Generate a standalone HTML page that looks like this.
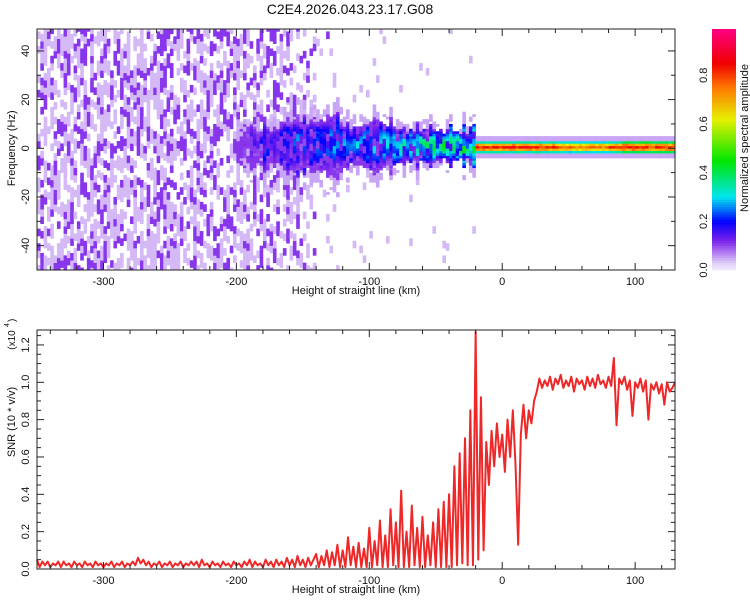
<!DOCTYPE html>
<html><head><meta charset="utf-8">
<style>
html,body{margin:0;padding:0;background:#fff;}
svg{display:block;font-family:"Liberation Sans",sans-serif;}
</style></head>
<body>
<svg id="chart" width="750" height="600" viewBox="0 0 750 600" xmlns="http://www.w3.org/2000/svg">
<rect width="750" height="600" fill="#fff"/>
<text x="350" y="14" font-size="14" text-anchor="middle" fill="#111">C2E4.2026.043.23.17.G08</text>
<g id="spec"></g>
<g id="snr"></g>
<g id="cbar"></g>
</svg>
<script>
// ---- data ----
const xTicks = [-300, -200, -100, 0, 100];
const freqTicks = [-40, -20, 0, 20, 40];
const snrTicks = [0.0, 0.2, 0.4, 0.6, 0.8, 1.0, 1.2];
const cbarTicks = [0.0, 0.2, 0.4, 0.6, 0.8];
// spectrogram per-10 km column descriptors, from -350 to 130 km
const specStart = -350, specStep = 10;
const noiseLevel = [0.8,0.8,0.8,0.8,0.8,0.8,0.8,0.8,0.8,0.8,0.8,0.8,0.8,0.78,0.76,0.75,0.72,0.7,0.68,0.6,0.45,0.12,0.06,0.05,0.04,0.04,0.03,0.03,0.03,0.02,0.02,0.02,0.01,0,0,0,0,0,0,0,0,0,0,0,0,0,0,0,0];
const bandHalfWidth = [0,0,0,0,0,0,0,0,0,0,0,0,0,0,0,6,8,9,10,11,12,12,11,10,10,9,9,8,8,8,7,7,7,2.6,2.6,2.6,2.6,2.6,2.6,2.6,2.6,2.6,2.6,2.6,2.8,2.8,2.8,2.8,2.8];
const bandPeak = [0,0,0,0,0,0,0,0,0,0,0,0,0,0,0,0.12,0.2,0.24,0.26,0.28,0.28,0.28,0.3,0.3,0.32,0.32,0.34,0.36,0.4,0.42,0.45,0.5,0.5,0.88,0.88,0.9,0.9,0.88,0.86,0.82,0.8,0.8,0.8,0.85,0.88,0.86,0.86,0.86,0.84];
// SNR series (x10^4), 2 km steps from -350 to 130 km
const snrStart = -350, snrStep = 2;
const snrValues = [
0.05,0.01,0.04,0.02,0.04,0.01,0.03,0.02,0.04,0.01,0.04,0.02,0.03,0.01,0.04,0.02,0.03,0.01,0.04,0.02,0.03,0.01,0.04,0.02,0.03,0.01,0.03,0.02,0.04,0.01,
0.03,0.02,0.04,0.01,0.03,0.02,0.04,0.02,0.06,0.03,0.05,0.02,0.04,0.01,0.03,0.02,0.04,0.01,0.03,0.02,0.04,0.01,0.03,0.02,0.04,0.01,0.03,0.02,0.04,0.02,
0.04,0.01,0.05,0.02,0.03,0.01,0.04,0.02,0.03,0.01,0.04,0.02,0.03,0.01,0.04,0.02,0.03,0.01,0.04,0.02,0.05,0.01,0.04,0.02,0.03,0.01,0.05,0.02,0.04,0.01,
0.05,0.02,0.04,0.01,0.06,0.02,0.05,0.01,0.07,0.02,0.05,0.01,0.06,0.02,0.05,
0.08,0.01,0.07,0.02,0.10,0.01,0.09,0.02,0.13,0.01,0.10,0.01,0.17,0.02,0.12,0.01,0.14,0.01,0.11,0.01,
0.22,0.01,0.15,0.02,0.26,0.01,0.18,0.01,0.32,0.02,0.25,0.01,0.42,0.01,0.20,0.01,0.34,0.02,0.22,0.01,0.28,0.01,0.18,0.02,0.25,0.01,0.32,0.01,0.36,0.01,
0.40,0.01,0.55,0.02,0.62,0.03,0.70,0.02,0.85,0.02,1.27,0.05,0.92,0.10,
0.68,0.45,0.74,0.55,0.78,0.60,0.72,0.52,0.80,0.60,0.85,0.56,
0.13,
0.72,0.88,0.70,0.85,0.78,0.90,
0.95,1.02,0.97,1.01,0.98,1.03,0.96,1.02,0.99,1.04,0.97,1.01,0.98,1.03,0.95,1.02,0.99,1.01,0.96,1.03,0.98,1.02,0.97,1.04,0.99,1.01,0.97,1.03,0.98,1.13,0.77,1.02,0.99,1.03,0.96,1.01,0.82,1.00,0.97,1.02,0.95,1.01,0.80,0.99,0.96,1.00,0.94,0.99,0.88,1.00,0.95,0.97,1.00];

const NS = "http://www.w3.org/2000/svg";
function mk(parent, tag, attrs, text){
  const e = document.createElementNS(NS, tag);
  for (const k in attrs) e.setAttribute(k, attrs[k]);
  if (text !== undefined) e.textContent = text;
  parent.appendChild(e); return e;
}
const L = 37, R = 675;
const xMin = -350, xMax = 130;
const X = v => L + (v - xMin) / (xMax - xMin) * (R - L);
const T1 = 29, B1 = 270, fMin = -50, fMax = 49;
const Yf = v => B1 - (v - fMin) / (fMax - fMin) * (B1 - T1);
const T2 = 330, B2 = 569, sMax = 1.28;
const Ys = v => B2 - v / sMax * (B2 - T2);

const stops = [[0,[244,236,253]],[0.03,[222,204,248]],[0.08,[170,110,240]],[0.12,[125,35,235]],[0.2,[0,0,255]],[0.3,[0,230,240]],[0.45,[0,230,0]],[0.62,[230,240,0]],[0.75,[255,120,0]],[0.85,[240,0,0]],[1,[255,0,140]]];
function cmap(v){
  v = Math.max(0, Math.min(1, v));
  for (let i = 1; i < stops.length; i++){
    if (v <= stops[i][0]){
      const a = stops[i-1], b = stops[i], t = (v - a[0]) / (b[0] - a[0]);
      const c = a[1].map((q, k) => Math.round(q + (b[1][k] - q) * t));
      return `rgb(${c[0]},${c[1]},${c[2]})`;
    }
  }
  return "rgb(255,0,140)";
}
// deterministic speckle texture (not data)
const tex = (i, j) => { const s = Math.sin(i * 12.9898 + j * 78.233) * 43758.5453; return s - Math.floor(s); };

// ---- spectrogram ----
const spec = document.getElementById("spec");
const cw = 2.5, fh = 1;
for (let i = 0; xMin + i * cw < xMax; i++){
  const x0 = xMin + i * cw;
  const k = Math.min(noiseLevel.length - 1, Math.floor((x0 - specStart) / specStep));
  const jit = 0.7 + 0.6 * tex(i, 99);
  for (let f = fMin; f < fMax; f += fh){
    const fcen = f + 0.5;
    const blob = Math.floor((f + (i % 3)) / 3);
    let v = 0;
    const hw = bandHalfWidth[k], pk = bandPeak[k];
    if (hw > 0){
      if (pk > 0.7){
        const d = Math.abs(fcen - 0.5) / hw;
        if (d < 1) v = Math.max(0.1, pk * (1 - d * d) * (0.88 + 0.12 * tex(i, f)));
        else if (d < 1.7) v = 0.05;
      } else {
        const d = Math.abs(fcen - 1) / (hw * jit);
        const t = tex(i, blob);
        if (d < 1){
          v = pk * (1 - 0.6 * d * d) * (0.3 + 0.7 * t);
          if (v < 0.09) v = t < 0.5 ? 0.11 : 0.05;
        } else if (d < 1.5 && t < 0.5) v = 0.05;
      }
    }
    if (v === 0){
      const r = tex(i * 3 + 7, blob * 1.7);
      const p = noiseLevel[k];
      if (p >= 0.1 && r < p * 0.3) v = 0.11; else if (r < p * 0.8) v = 0.04;
    }
    if (v <= 0) continue;
    const x1 = X(x0), x2 = X(Math.min(xMax, x0 + cw));
    const r = mk(spec, "rect", {x: x1.toFixed(2), y: Yf(f + fh).toFixed(2), width: (x2 - x1 + 0.3).toFixed(2), height: (Yf(f) - Yf(f + fh) + 0.3).toFixed(2), fill: cmap(v)});
    
    
  }
}
function frame(g, T, B, yTicksArr, Yfun, yMinor, yMin, yMax, fmt, name){
  const fr = mk(g, "rect", {x: L, y: T, width: R - L, height: B - T, fill: "none", stroke: "#222", "stroke-width": 1});
  
  
  for (let v = -340; v <= 120; v += 20){
    const major = v % 100 === 0, len = major ? 7 : 4;
    mk(g, "line", {x1: X(v), x2: X(v), y1: B, y2: B - len, stroke: "#222"});
    mk(g, "line", {x1: X(v), x2: X(v), y1: T, y2: T + len, stroke: "#222"});
  }
  for (let v = yMin; v <= yMax + 1e-9; v += yMinor){
    const y = Yfun(v);
    if (y < T - 0.5 || y > B + 0.5) continue;
    const major = yTicksArr.some(t => Math.abs(t - v) < 1e-6), len = major ? 7 : 4;
    mk(g, "line", {x1: L, x2: L + len, y1: y, y2: y, stroke: "#222"});
    mk(g, "line", {x1: R, x2: R - len, y1: y, y2: y, stroke: "#222"});
  }
  xTicks.forEach(t => {
    const tx = mk(g, "text", {x: X(t), y: B + 15, "font-size": 11, "text-anchor": "middle", fill: "#111"}, String(t));
    
    
  });
  yTicksArr.forEach(t => {
    const y = Yfun(t);
    const tx = mk(g, "text", {x: 0, y: 0, "font-size": 11, "text-anchor": "middle", fill: "#111", transform: `translate(29,${y}) rotate(-90)`}, fmt(t));
    
    
  });
  const xl = mk(g, "text", {x: 356, y: B + 24, "font-size": 11, "text-anchor": "middle", fill: "#111"}, "Height of straight line (km)");
  
  
}
frame(spec, T1, B1, freqTicks, Yf, 10, -50, 50, t => String(t), "spectrogram");
const fl = mk(spec, "text", {x: 0, y: 0, "font-size": 11, "text-anchor": "middle", fill: "#111", transform: `translate(15,${Yf(0)}) rotate(-90)`}, "Frequency (Hz)");



// ---- SNR ----
const snr = document.getElementById("snr");
let d = "";
snrValues.forEach((v, i) => { const x = snrStart + i * snrStep; d += (i ? "L" : "M") + X(x).toFixed(2) + "," + Ys(v).toFixed(2); });
const line = mk(snr, "path", {d: d, fill: "none", stroke: "#ee2828", "stroke-width": 2, "stroke-linejoin": "round"});


frame(snr, T2, B2, snrTicks, Ys, 0.05, 0, 1.3, t => t.toFixed(1), "snr");
const sl = mk(snr, "text", {x: 0, y: 0, "font-size": 11, "text-anchor": "middle", fill: "#111", transform: `translate(15,422) rotate(-90)`}, "SNR (10 * v/v)");


const ex = mk(snr, "text", {x: 0, y: 0, "font-size": 10, "text-anchor": "middle", fill: "#111", transform: `translate(15,340) rotate(-90)`}, "(x10");


const sup = mk(snr, "text", {x: 0, y: 0, "font-size": 7, fill: "#111", transform: `translate(9,327) rotate(-90)`}, "4");


const cp = mk(snr, "text", {x: 0, y: 0, "font-size": 10, fill: "#111", transform: `translate(15,322) rotate(-90)`}, ")");



// ---- colorbar ----
const cb = document.getElementById("cbar");
const cT = 29, cB = 270, cL = 712, cR = 736;
const Yc = v => cB - v / 0.99 * (cB - cT);
for (let v = 0; v < 0.99; v += 0.01){
  const r = mk(cb, "rect", {x: cL, y: Yc(v + 0.01), width: cR - cL, height: Yc(v) - Yc(v + 0.01) + 0.4, fill: cmap(v + 0.005)});
  
  
}
cbarTicks.forEach(t => {
  const tx = mk(cb, "text", {x: 0, y: 0, "font-size": 11, "text-anchor": "middle", fill: "#111", transform: `translate(707,${Yc(t)}) rotate(-90)`}, t.toFixed(1));
  
  
});
const ct = mk(cb, "text", {x: 0, y: 0, "font-size": 11, "text-anchor": "middle", fill: "#111", transform: `translate(748,138) rotate(-90)`}, "Normalized spectral amplitude");


</script>
</body></html>
